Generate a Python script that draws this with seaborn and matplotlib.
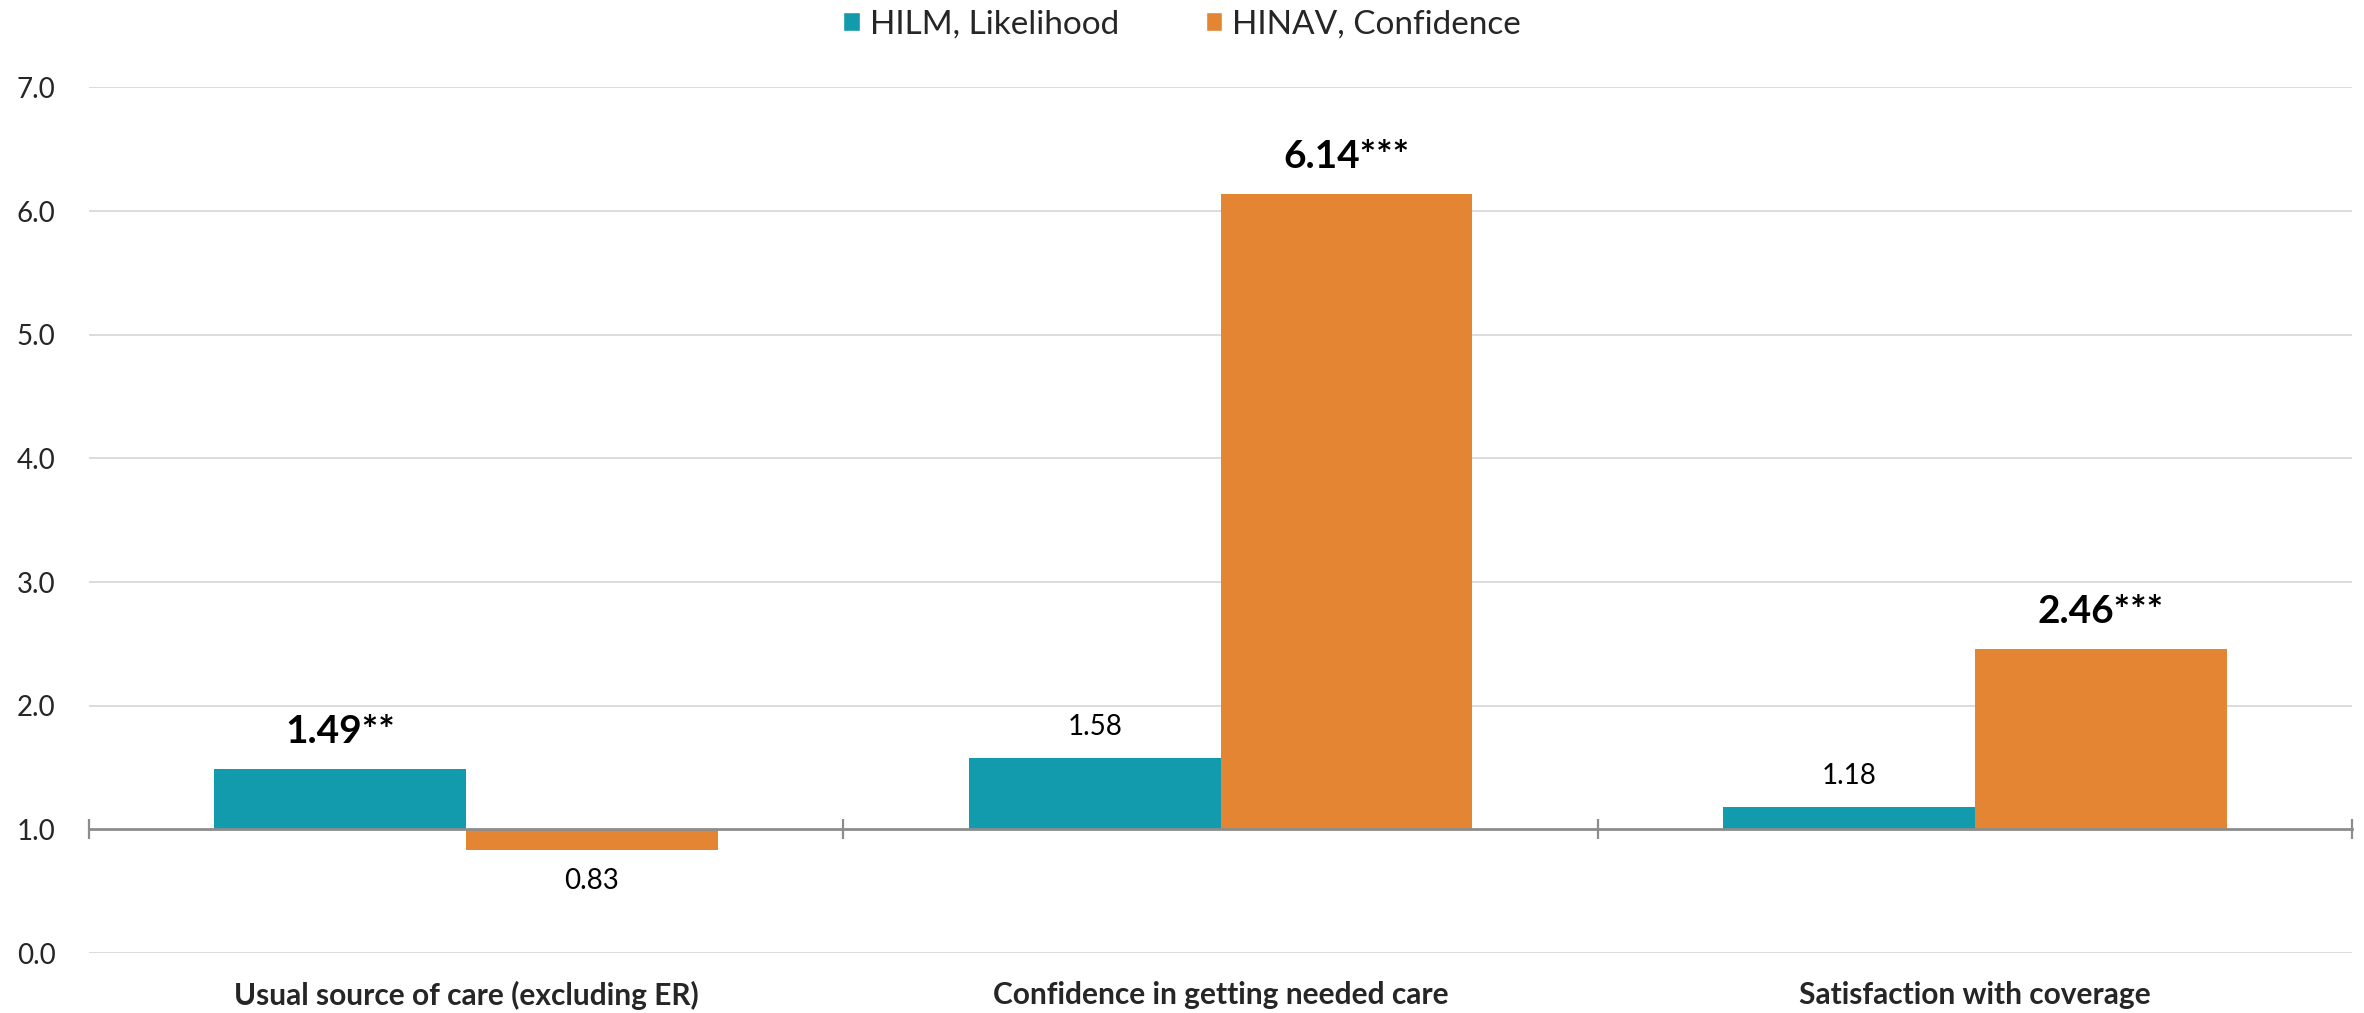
import matplotlib
matplotlib.use("Agg")
import matplotlib.pyplot as plt
import seaborn as sns
import pandas as pd

categories = [
    "Usual source of care (excluding ER)",
    "Confidence in getting needed care",
    "Satisfaction with coverage",
]
series_names = ["HILM, Likelihood", "HINAV, Confidence"]
hilm_values = [1.49, 1.58, 1.18]
hinav_values = [0.83, 6.14, 2.46]
hilm_sig = ["**", "", ""]
hinav_sig = ["", "***", "***"]
y_ticks = [0, 1, 2, 3, 4, 5, 6, 7]

TEAL = "#129AAD"
ORANGE = "#E38533"
BASELINE = 1.0

df = pd.DataFrame({
    "category": categories * 2,
    "series": [series_names[0]] * 3 + [series_names[1]] * 3,
    "value": hilm_values + hinav_values,
})

sns.set_theme(style="white")
plt.rcParams["font.family"] = ["Lato", "DejaVu Sans"]

fig = plt.figure(figsize=(23.64, 10.13), dpi=100)
ax = fig.add_axes([0.0376, 0.0592, 0.9574, 0.8545])

sns.barplot(data=df, x="category", y="value", hue="series",
            palette=[TEAL, ORANGE], width=0.667, saturation=1,
            order=categories, hue_order=series_names, ax=ax, zorder=2)

# odds ratios: bars grow from the reference line at 1.0
sigs = [hilm_sig, hinav_sig]
vals = [hilm_values, hinav_values]
for cont, vs, ss in zip(ax.containers, vals, sigs):
    for bar, v, s in zip(cont, vs, ss):
        bar.set_y(BASELINE)
        bar.set_height(v - BASELINE)
        bar.set_linewidth(0)
        cx = bar.get_x() + bar.get_width() / 2
        bold = bool(s)
        up = v >= BASELINE
        off = (37 if bold else 31) * (1 if up else -1)
        ax.annotate(f"{v:.2f}{s}", xy=(cx, v), xytext=(0, off),
                    textcoords="offset pixels", ha="center", va="center",
                    fontsize=28 if bold else 20,
                    fontweight="bold" if bold else "normal", color="black")

ax.set_ylim(0, 7)
ax.set_xlim(-0.5, 2.5)
ax.set_yticks(y_ticks)
ax.set_yticklabels([f"{t:.1f}" for t in y_ticks], fontsize=20)
ax.tick_params(axis="y", length=0, pad=24)
for t in y_ticks:
    if t != BASELINE:
        ax.axhline(t, color="#D9D9D9", lw=1.3, zorder=0)

ax.set_xticks([-0.5, 0.5, 1.5, 2.5])
ax.set_xticklabels([])
ax.tick_params(axis="x", direction="inout", length=14, width=1.6,
               color="#8C8C8C", bottom=True)
for side in ["left", "right", "top"]:
    ax.spines[side].set_visible(False)
ax.spines["bottom"].set_position(("data", BASELINE))
ax.spines["bottom"].set_color("#8C8C8C")
ax.spines["bottom"].set_linewidth(2.0)
ax.spines["bottom"].set_zorder(3)
ax.set_xlabel("")
ax.set_ylabel("")

for i, c in enumerate(categories):
    ax.annotate(c, xy=(i, 0), xycoords=("data", "axes fraction"),
                xytext=(0, -42), textcoords="offset pixels",
                ha="center", va="center", fontsize=21.5, fontweight="bold")

handles, labels = ax.get_legend_handles_labels()
ax.get_legend().remove()
fig.legend(handles, labels, loc="center", bbox_to_anchor=(0.5, 0.976),
           bbox_transform=fig.transFigure, ncol=2, frameon=False,
           fontsize=24, handlelength=0.5, handleheight=0.5,
           handletextpad=0.3, columnspacing=2.6)

fig.savefig("out.png", dpi=100)
